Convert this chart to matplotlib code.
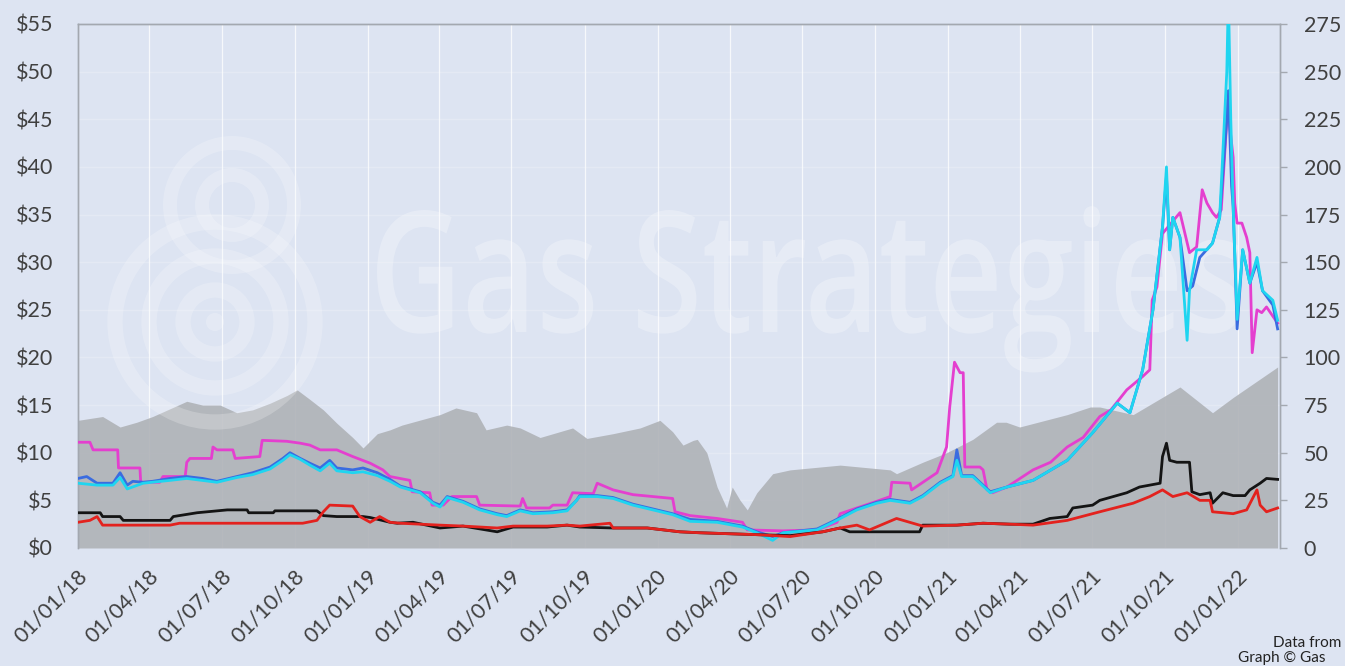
import matplotlib
matplotlib.use("Agg")
import matplotlib.pyplot as plt
import matplotlib.dates as mdates
import pandas as pd
from matplotlib.textpath import TextPath
from matplotlib.patches import PathPatch, Ellipse
from matplotlib.font_manager import FontProperties
from matplotlib.transforms import Affine2D, ScaledTranslation

# ---------------- data ----------------
brent_dates = ["2018-01-01","2018-02-01","2018-02-23","2018-03-16","2018-04-05","2018-05-18","2018-06-07",
               "2018-06-29","2018-07-20","2018-08-09","2018-08-31","2018-09-21","2018-10-04","2018-10-20",
               "2018-11-06","2018-11-23","2018-12-13","2018-12-26","2019-01-13","2019-01-29","2019-02-13",
               "2019-04-02","2019-04-22","2019-05-18","2019-05-30","2019-06-25","2019-07-12","2019-08-06",
               "2019-09-16","2019-10-04","2019-11-06","2019-12-10","2020-01-04","2020-01-20","2020-02-02",
               "2020-02-15","2020-02-20","2020-03-03","2020-03-16","2020-03-28","2020-04-04","2020-04-14",
               "2020-04-23","2020-05-05","2020-05-25","2020-06-16","2020-08-18","2020-10-20","2020-10-28",
               "2020-11-30","2020-12-30","2021-02-01","2021-03-03","2021-03-15","2021-04-01","2021-05-31",
               "2021-06-29","2021-07-11","2021-08-22","2021-10-20","2021-11-30","2021-12-26","2022-02-20"]
brent_vals = [67,69,63.5,66,69,77,75,75,71,72.5,76,80,83,78,72.5,65.5,58,52.5,60,62,64.5,
              70,73.5,71,62,64.5,63,58,63,57.5,60,63,67,61,54,56.5,57,50,32,21,32,25,
              20,29,39,41,43.5,41,39,45,50,57,66,66,63.5,70,74,74,70,84.5,71,79,95]

magenta_dates = ["2018-01-01","2018-01-16","2018-01-20","2018-02-20","2018-02-21","2018-03-20","2018-03-21",
                 "2018-04-14","2018-04-18","2018-05-16","2018-05-18","2018-05-22","2018-06-18","2018-06-20",
                 "2018-06-25","2018-07-15","2018-07-18","2018-08-18","2018-08-21","2018-09-21","2018-10-08",
                 "2018-10-20","2018-11-02","2018-11-23","2018-12-13","2019-01-04","2019-01-20","2019-01-29",
                 "2019-02-23","2019-02-26","2019-03-20","2019-03-23","2019-04-06","2019-04-17","2019-05-18",
                 "2019-05-22","2019-07-12","2019-07-15","2019-07-20","2019-08-18","2019-08-22","2019-09-09",
                 "2019-09-16","2019-10-12","2019-10-17","2019-11-06","2019-12-01","2020-01-20","2020-01-23",
                 "2020-02-11","2020-03-16","2020-04-17","2020-04-23","2020-06-07","2020-07-20","2020-08-14",
                 "2020-08-18","2020-09-08","2020-10-03","2020-10-20","2020-10-22","2020-11-14","2020-11-16",
                 "2020-12-18","2020-12-30","2021-01-03","2021-01-09","2021-01-16","2021-01-20","2021-01-22",
                 "2021-02-10","2021-02-14","2021-02-19","2021-02-26","2021-03-16","2021-04-18","2021-05-10",
                 "2021-05-31","2021-06-20","2021-07-11","2021-07-25","2021-08-14","2021-09-03","2021-09-12",
                 "2021-09-15","2021-09-21","2021-09-28",
                 "2021-10-20","2021-10-24","2021-11-01","2021-11-10","2021-11-17","2021-11-23","2021-11-30",
                 "2021-12-05","2021-12-11","2021-12-18","2021-12-19","2021-12-22","2021-12-26","2021-12-28",
                 "2021-12-31","2022-01-06","2022-01-12","2022-01-16","2022-01-19","2022-01-25","2022-01-31",
                 "2022-02-06","2022-02-20"]
magenta_vals = [11.1,11.1,10.3,10.3,8.4,8.4,6.9,6.9,7.5,7.5,9.0,9.4,9.4,10.6,10.3,10.3,9.4,9.6,11.3,11.2,11.0,
                10.8,10.3,10.3,9.6,8.9,8.2,7.5,7.1,5.9,5.8,4.5,4.5,5.4,5.4,4.5,4.4,5.2,4.2,4.2,4.5,4.5,
                5.8,5.7,6.8,6.1,5.6,5.2,3.8,3.4,3.1,2.7,1.9,1.8,1.9,2.7,3.6,4.2,4.9,5.4,6.9,6.8,6.1,
                7.9,10.6,14.8,19.5,18.4,18.4,8.5,8.5,8.2,6.1,5.8,6.4,8.2,9.0,10.6,11.6,13.8,14.5,16.6,
                18.0,18.7,26.0,27.4,33.0,35.2,33.8,31.0,31.6,37.6,36.2,35.2,34.7,35.5,44.9,47.0,44.0,
                41.0,36.2,34.1,34.1,32.6,31.0,20.5,25.0,24.7,25.3,23.6]

blue_dates = ["2018-01-01","2018-01-12","2018-01-25","2018-02-14","2018-02-23","2018-03-04","2018-03-11",
              "2018-03-24","2018-04-05","2018-04-27","2018-05-18","2018-06-07","2018-06-25","2018-07-20",
              "2018-08-09","2018-08-31","2018-09-16","2018-09-25","2018-10-08","2018-10-20","2018-11-02",
              "2018-11-14","2018-11-23","2018-12-13","2018-12-26","2019-01-13","2019-01-29","2019-02-11",
              "2019-03-08","2019-03-24","2019-04-02","2019-04-11","2019-05-01","2019-05-22","2019-06-13",
              "2019-06-25","2019-07-12","2019-07-28","2019-08-22","2019-09-09","2019-09-21","2019-09-25",
              "2019-10-17","2019-11-06","2019-12-01","2019-12-26","2020-01-20","2020-02-11","2020-03-16",
              "2020-04-17","2020-05-05","2020-05-25","2020-06-07","2020-07-20","2020-08-09","2020-09-08",
              "2020-10-03","2020-10-20","2020-11-14","2020-11-30","2020-12-22","2021-01-07","2021-01-12",
              "2021-01-18","2021-02-01","2021-02-23","2021-03-16","2021-04-18","2021-05-31","2021-07-02",
              "2021-08-02","2021-08-18","2021-09-03","2021-09-16","2021-09-28","2021-10-03","2021-10-07",
              "2021-10-11","2021-10-20","2021-10-29","2021-11-05","2021-11-14","2021-11-30","2021-12-09",
              "2021-12-18","2021-12-20","2021-12-24","2021-12-26","2021-12-31","2022-01-07","2022-01-16",
              "2022-01-25","2022-02-01","2022-02-14","2022-02-20"]
blue_vals = [7.3,7.5,6.8,6.8,7.9,6.6,7.0,6.9,7.0,7.3,7.5,7.3,7.0,7.5,7.9,8.5,9.4,10.0,9.4,8.9,8.4,
             9.2,8.4,8.2,8.4,7.9,7.2,6.5,5.9,4.8,4.5,5.4,4.9,4.1,3.6,3.4,4.0,3.7,3.8,4.0,5.0,5.5,
             5.5,5.3,4.6,4.1,3.6,3.0,2.8,2.3,1.7,1.2,1.6,2.0,2.8,4.1,4.8,5.1,4.8,5.5,6.9,7.6,10.3,
             7.6,7.6,5.9,6.4,7.1,9.2,12.1,15.2,14.2,18.7,25.0,33.7,39.0,31.3,34.7,32.6,27.0,27.5,
             30.5,32.0,34.7,45.0,48.0,38.0,35.8,23.0,31.3,27.8,30.0,27.0,25.5,23.0]

cyan_dates = ["2018-01-01","2018-01-25","2018-02-14","2018-02-23","2018-03-04","2018-03-24","2018-04-27",
              "2018-05-18","2018-06-25","2018-07-20","2018-08-09","2018-08-31","2018-09-16","2018-09-25",
              "2018-10-08","2018-10-20","2018-11-02","2018-11-14","2018-11-23","2018-12-13","2018-12-26",
              "2019-01-13","2019-01-29","2019-02-11","2019-03-08","2019-03-24","2019-04-02","2019-04-11",
              "2019-05-01","2019-05-22","2019-06-13","2019-06-25","2019-07-12","2019-07-28","2019-08-22",
              "2019-09-09","2019-09-21","2019-09-25","2019-10-17","2019-11-06","2019-12-01","2019-12-26",
              "2020-01-20","2020-02-11","2020-03-16","2020-04-17","2020-05-05","2020-05-25","2020-06-07",
              "2020-07-20","2020-08-09","2020-09-08","2020-10-03","2020-10-20","2020-11-14","2020-11-30",
              "2020-12-22","2021-01-07","2021-01-12","2021-01-18","2021-02-01","2021-02-23","2021-03-16",
              "2021-04-18","2021-05-31","2021-07-02","2021-08-02","2021-08-18","2021-09-03","2021-09-16",
              "2021-09-28","2021-10-03","2021-10-07","2021-10-11","2021-10-20","2021-10-29","2021-11-01",
              "2021-11-10","2021-11-23","2021-11-30","2021-12-09","2021-12-18","2021-12-20","2021-12-23",
              "2021-12-26","2021-12-31","2022-01-07","2022-01-16","2022-01-25","2022-02-01","2022-02-14",
              "2022-02-20"]
cyan_vals = [6.8,6.6,6.6,7.4,6.2,6.8,7.1,7.3,6.9,7.4,7.7,8.3,9.2,9.8,9.3,8.7,8.1,8.9,8.1,7.9,8.0,
             7.6,7.0,6.4,5.8,4.7,4.3,5.3,4.8,4.0,3.5,3.3,3.9,3.6,3.7,3.9,5.0,5.4,5.4,5.2,4.5,4.0,
             3.5,2.8,2.7,2.2,1.6,0.8,1.6,1.9,2.7,4.0,4.7,5.0,4.7,5.4,6.8,7.5,9.2,7.5,7.5,5.8,6.4,
             7.1,9.2,12.1,15.2,14.2,18.7,25.0,33.7,40.0,31.3,34.7,32.6,21.8,27.0,31.3,31.3,32.0,
             34.7,50.0,58.0,45.0,35.8,24.0,31.3,27.8,30.5,27.0,26.0,23.9]

black_dates = ["2018-01-01","2018-01-29","2018-02-01","2018-02-23","2018-02-27","2018-04-27","2018-05-01",
               "2018-05-31","2018-07-08","2018-08-02","2018-08-04","2018-09-04","2018-09-06","2018-10-29",
               "2018-11-06","2018-11-23","2018-12-26","2019-01-04","2019-01-29","2019-02-07","2019-02-27",
               "2019-04-02","2019-05-01","2019-06-13","2019-07-03","2019-08-15","2019-09-09","2019-09-25",
               "2019-11-06","2019-12-19","2020-01-29","2020-02-23","2020-05-05","2020-06-16","2020-07-27",
               "2020-08-18","2020-08-30","2020-11-26","2020-11-30","2021-01-12","2021-02-14","2021-03-20",
               "2021-04-18","2021-05-09","2021-05-31","2021-06-07","2021-07-02","2021-07-11","2021-08-14",
               "2021-08-30","2021-09-25","2021-09-28","2021-10-03","2021-10-07","2021-10-16","2021-11-01",
               "2021-11-04","2021-11-14","2021-11-27","2021-11-30","2021-12-13","2021-12-26","2022-01-10",
               "2022-01-16","2022-01-29","2022-02-06","2022-02-20"]
black_vals = [3.7,3.7,3.3,3.3,2.9,2.9,3.3,3.7,4.0,4.0,3.7,3.7,3.9,3.9,3.4,3.3,3.3,3.2,2.7,2.6,2.7,
              2.1,2.3,1.7,2.2,2.2,2.4,2.2,2.1,2.1,1.7,1.6,1.4,1.3,1.7,2.1,1.7,1.7,2.4,2.4,2.6,2.5,
              2.5,3.1,3.3,4.2,4.5,5.0,5.8,6.4,6.8,9.6,11.0,9.2,9.0,9.0,5.9,5.6,5.8,4.7,5.8,5.5,5.5,
              6.1,6.8,7.3,7.2]

red_dates = ["2018-01-01","2018-01-16","2018-01-25","2018-02-01","2018-04-27","2018-05-09","2018-10-11",
             "2018-10-29","2018-11-06","2018-11-14","2018-12-13","2018-12-22","2019-01-04","2019-01-16",
             "2019-01-29","2019-02-11","2019-04-02","2019-05-01","2019-06-13","2019-07-03","2019-08-15",
             "2019-09-09","2019-09-25","2019-11-02","2019-11-06","2019-12-19","2020-01-29","2020-02-23",
             "2020-05-05","2020-06-16","2020-07-27","2020-08-18","2020-09-08","2020-09-24","2020-10-28",
             "2020-11-30","2021-01-12","2021-02-14","2021-03-20","2021-04-18","2021-05-31","2021-07-11",
             "2021-08-22","2021-09-12","2021-09-28","2021-10-11","2021-10-29","2021-11-14","2021-11-27",
             "2021-11-30","2021-12-26","2022-01-12","2022-01-25","2022-01-29","2022-02-06","2022-02-20"]
red_vals = [2.7,2.9,3.3,2.4,2.4,2.6,2.6,2.9,3.8,4.5,4.4,3.3,2.7,3.3,2.7,2.6,2.4,2.3,2.1,2.3,2.3,
            2.4,2.3,2.6,2.1,2.1,1.7,1.6,1.4,1.2,1.7,2.1,2.4,1.9,3.1,2.3,2.4,2.6,2.5,2.4,2.9,3.8,
            4.7,5.4,6.1,5.4,5.8,5.0,5.0,3.8,3.6,4.0,6.1,4.5,3.8,4.2]

left_ticks = list(range(0, 56, 5))
right_ticks = list(range(0, 276, 25))
x_start, x_end = "2018-01-01", "2022-02-23"
tick_dates = pd.date_range("2018-01-01", "2022-01-01", freq="QS")

# ---------------- style ----------------
BG = "#dde4f2"
GREY = "#afb2b7"
TXT = "#404040"
SPINE = "#a3a8b0"
FONT = "Lato"
FS = 15.5

fig = plt.figure(figsize=(13.45, 6.66), dpi=100, facecolor=BG)
L, R, B, T = 78/1345, 1280/1345, 1-548/666, 1-24/666
axg = fig.add_axes([L, B, R-L, T-B])          # grey area, right axis
axg.set_facecolor(BG)
axl = axg.twinx()                               # price lines, left axis
axg.yaxis.tick_right(); axg.yaxis.set_label_position("right")
axl.yaxis.tick_left(); axl.yaxis.set_label_position("left")

# grey area (right axis)
bd = pd.to_datetime(brent_dates)
axg.fill_between(bd, 0, brent_vals, color=GREY, alpha=0.9, lw=0, zorder=2)
axg.set_ylim(0, 275)
axg.set_yticks(right_ticks)
axg.set_axisbelow(True)
axg.xaxis.grid(True, color="white", lw=0.9, alpha=0.75)
axg.yaxis.grid(True, color="white", lw=1.0, alpha=0.22)

# watermark (on the line axes, below lines)
fp = FontProperties(family="Open Sans", weight="semibold")
tp = TextPath((0, 0), "Gas Strategies", size=1, prop=fp)
ext = tp.get_extents()
capg = TextPath((0, 0), "G", size=1, prop=fp).get_extents()
aw, ah = 1202.0, 524.0
x0f, x1f = (377-78)/aw, (1240-78)/aw
basef, topf = (548-332)/ah, (548-210)/ah
sx = (x1f-x0f)/ext.width
sy = (topf-basef)/capg.y1
tr = Affine2D().translate(-ext.x0, 0).scale(sx, sy).translate(x0f, basef) + axl.transAxes
axl.add_artist(PathPatch(tp, transform=tr, fc="white", ec="none", alpha=0.27, zorder=0.5))

def ring(cx, cy, r, w):
    e = Ellipse(((cx-78)/aw, (548-cy)/ah), 2*r/aw, 2*r/ah, transform=axl.transAxes,
                fc="none", ec="white", lw=w, alpha=0.22, zorder=0.5)
    axl.add_artist(e)

for r in (100, 66, 32):
    ring(215, 322, r, 11)
for r in (62, 30):
    ring(232, 205, r, 10)
axl.add_artist(Ellipse(((215-78)/aw, (548-322)/ah), 18/aw, 18/ah, transform=axl.transAxes,
                       fc="white", ec="none", alpha=0.22, zorder=0.5))

# lines (left axis)
series = [(magenta_dates, magenta_vals, "#e43fcf"),
          (blue_dates, blue_vals, "#3a6ce0"),
          (cyan_dates, cyan_vals, "#1fd5f0"),
          (black_dates, black_vals, "#141414"),
          (red_dates, red_vals, "#e3221e")]
for d, v, c in series:
    axl.plot(pd.to_datetime(d), v, color=c, lw=2.0, zorder=3)
axl.set_ylim(0, 55)
axl.set_yticks(left_ticks)
axl.set_yticklabels([f"${v}" for v in left_ticks])

axg.set_xlim(pd.Timestamp(x_start), pd.Timestamp(x_end))
axg.set_xticks(tick_dates)
axg.xaxis.set_major_formatter(mdates.DateFormatter("%d/%m/%y"))

axg.tick_params(axis="x", length=0, pad=18, labelsize=FS, labelcolor=TXT)
axg.tick_params(axis="y", length=5, width=1, color=SPINE, pad=12, labelsize=FS, labelcolor=TXT)
axl.tick_params(axis="y", length=0, pad=18, labelsize=FS, labelcolor=TXT)

shift = ScaledTranslation(6/100, 0, fig.dpi_scale_trans)
for lab in axg.get_xticklabels():
    lab.set_rotation(45)
    lab.set_ha("right")
    lab.set_va("center")
    lab.set_rotation_mode("anchor")
    lab.set_transform(lab.get_transform() + shift)

for a in (axg, axl):
    for lab in a.get_xticklabels() + a.get_yticklabels():
        lab.set_fontfamily(FONT)
    for s in a.spines.values():
        s.set_color(SPINE)
        s.set_linewidth(1)
    a.spines["bottom"].set_visible(False)

fig.text(1273/1345, 1-643/666, "Data from", fontsize=11, color="#222222",
         family=FONT, va="center", ha="left")
fig.text(1238/1345, 1-658/666, "Graph \u00a9 Gas", fontsize=11, color="#222222",
         family=FONT, va="center", ha="left")

fig.savefig("out.png", dpi=100, facecolor=BG)
